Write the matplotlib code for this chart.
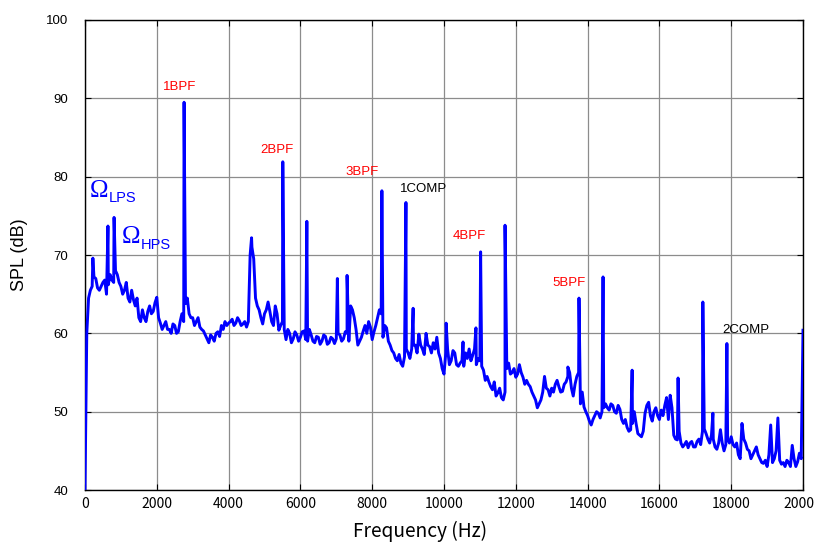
import numpy as np
import matplotlib
matplotlib.use("Agg")
import matplotlib.pyplot as plt

# spectrum baseline, read every 100 Hz from 0 to 20000 Hz
base_freq = np.arange(0, 20001, 100)
base_spl = [
    40.0, 64.5, 66.0, 67.0, 65.5, 66.5, 65.0, 67.5, 66.5, 67.5,
    66.0, 65.5, 64.5, 65.5, 63.5, 62.0, 63.0, 61.5, 63.5, 62.8,
    64.6, 61.3, 61.0, 60.5, 60.0, 61.0, 60.2, 62.5, 63.8, 62.5,
    62.0, 61.5, 60.8, 60.3, 59.3, 59.8, 59.0, 60.2, 61.0, 61.5,
    61.3, 61.8, 61.3, 61.6, 61.2, 60.8, 70.0, 69.5, 63.5, 62.0,
    62.5, 64.0, 61.5, 63.5, 60.4, 61.5, 59.2, 60.0, 59.3, 59.8,
    59.5, 60.3, 59.0, 59.8, 58.8, 59.5, 59.0, 59.6, 58.8, 59.3,
    59.3, 59.8, 59.3, 60.0, 63.5, 62.0, 58.5, 59.5, 61.0, 61.5,
    59.2, 61.0, 63.0, 59.5, 60.7, 58.5, 57.5, 56.5, 56.2, 57.0,
    57.5, 58.0, 58.5, 59.9, 58.0, 60.0, 58.3, 58.8, 59.5, 56.8,
    54.8, 58.0, 56.5, 57.5, 55.8, 56.5, 57.5, 58.0, 57.2, 56.0,
    56.5, 55.3, 54.5, 53.2, 53.8, 52.4, 51.8, 52.5, 56.2, 55.0,
    54.4, 56.0, 54.4, 54.0, 53.2, 52.0, 50.5, 51.5, 54.5, 52.8,
    53.0, 53.5, 53.2, 52.6, 53.8, 55.0, 52.0, 54.5, 51.0, 50.6,
    49.5, 48.3, 49.5, 49.8, 50.0, 51.0, 50.2, 50.8, 49.8, 50.3,
    48.5, 48.0, 47.7, 50.0, 47.2, 46.8, 49.8, 51.2, 48.8, 50.5,
    49.0, 49.5, 51.8, 52.1, 47.0, 46.4, 46.0, 45.8, 45.4, 46.2,
    45.5, 46.5, 47.5, 47.2, 46.0, 46.5, 45.2, 47.7, 45.0, 46.5,
    46.8, 45.5, 44.5, 48.5, 46.0, 45.0, 44.5, 45.5, 44.0, 43.4,
    43.0, 48.3, 44.0, 49.2, 43.3, 43.0, 43.5, 45.7, 43.0, 44.7,
    60.4,
]

# in-between readings (50, 150, ... 19950 Hz) for the fine ripple
half_freq = np.arange(50, 20000, 100)
half_spl = [
    60.0, 65.5, 67.2, 65.8, 66.0, 66.8, 66.2, 66.8, 68.0, 66.5,
    65.0, 66.5, 64.0, 64.3, 64.5, 61.5, 62.0, 62.8, 62.5, 63.9,
    62.0, 60.5, 61.5, 60.5, 61.2, 60.0, 61.5, 61.5, 64.5, 62.0,
    61.0, 62.0, 60.5, 59.8, 58.8, 59.5, 60.0, 59.6, 60.5, 61.0,
    61.5, 61.0, 62.0, 61.0, 61.5, 61.5, 71.0, 64.5, 63.0, 61.2,
    63.0, 62.8, 61.0, 62.5, 61.0, 60.5, 60.5, 58.8, 60.2, 59.0,
    60.2, 59.2, 60.5, 59.0, 59.6, 58.6, 59.8, 58.6, 59.5, 58.7,
    60.0, 59.0, 60.2, 59.0, 63.0, 60.5, 59.0, 60.3, 60.0, 60.8,
    60.2, 62.0, 62.5, 61.0, 59.0, 57.8, 56.8, 57.3, 55.8, 58.0,
    56.8, 58.5, 57.5, 58.5, 57.3, 58.5, 57.5, 58.0, 57.5, 55.5,
    57.5, 56.0, 57.8, 56.0, 56.2, 55.8, 56.8, 56.5, 58.0, 56.8,
    55.8, 54.0, 53.8, 52.8, 52.0, 53.0, 51.5, 55.5, 54.8, 55.5,
    54.8, 55.0, 53.5, 53.5, 52.5, 51.5, 51.0, 52.5, 53.0, 52.0,
    52.5, 54.0, 52.5, 53.5, 54.5, 53.0, 53.5, 55.0, 52.5, 50.0,
    48.8, 49.0, 50.0, 49.2, 50.5, 50.5, 51.0, 50.0, 50.8, 49.0,
    49.0, 47.5, 48.5, 48.5, 47.0, 47.5, 50.8, 49.5, 50.0, 49.5,
    50.2, 50.8, 49.0, 50.5, 46.5, 47.5, 45.5, 46.2, 46.0, 45.5,
    46.2, 45.8, 47.8, 46.5, 47.0, 45.5, 46.0, 46.0, 45.8, 46.0,
    45.8, 46.0, 44.0, 46.5, 45.2, 44.0, 45.0, 44.5, 43.5, 43.8,
    44.5, 43.5, 45.0, 43.8, 43.5, 43.8, 43.0, 44.0, 43.6, 44.0,
]

# narrow tonal peaks
peak_freq = [220, 640, 810, 2760, 4640, 5510, 6180, 7030, 7300, 8270,
             8940, 9140, 10060, 10530, 10890, 11020, 11700, 13450, 13760,
             14430, 15240, 16520, 17210, 17490, 17880]
peak_spl = [69.6, 73.7, 74.8, 89.5, 72.2, 81.9, 74.3, 67.0, 67.4, 78.2,
            76.7, 63.2, 61.3, 58.9, 60.7, 70.4, 73.8, 55.7, 64.5,
            67.2, 55.3, 54.3, 64.0, 49.8, 58.7]

# peak labels
label_text = ["1BPF", "2BPF", "3BPF", "1COMP", "4BPF", "5BPF", "2COMP"]
label_freq = [2650, 5350, 7720, 9420, 10700, 13480, 18420]
label_spl = [91.4, 83.4, 80.6, 78.4, 72.4, 66.4, 60.4]
label_color = ["red", "red", "red", "black", "red", "red", "black"]

freq = np.concatenate([base_freq, half_freq, peak_freq])
spl = np.concatenate([base_spl, half_spl, peak_spl])
order = np.argsort(freq, kind="stable")
freq, spl = freq[order], spl[order]

fig = plt.figure(figsize=(8.14, 5.42), dpi=100)
ax = fig.add_axes([0.1044, 0.0959, 0.8821, 0.8672])

ax.plot(freq, spl, color="#0000ff", lw=2.1, zorder=3)

ax.set_xlim(0, 20000)
ax.set_ylim(40, 100)
ax.set_xticks(np.arange(0, 20001, 2000))
ax.set_yticks(np.arange(40, 101, 10))
ax.grid(True, color="#8c8c8c", lw=0.9)
ax.tick_params(direction="in", top=True, right=True, length=4, width=0.8)
for lab in ax.get_xticklabels():
    lab.set_family("Noto Sans CJK JP")
    lab.set_fontsize(10)
for lab in ax.get_yticklabels():
    lab.set_family("Liberation Sans")
    lab.set_fontsize(9.5)
ax.tick_params(axis="x", pad=5)
ax.tick_params(axis="y", pad=12)
for s in ax.spines.values():
    s.set_linewidth(1.0)

ax.set_xlabel("Frequency (Hz)", family="Noto Sans CJK JP", fontsize=13.8)
ax.xaxis.set_label_coords(0.4666, -0.066)
ax.set_ylabel("SPL (dB)", family="Liberation Sans", fontsize=13)
ax.yaxis.set_label_coords(-0.079, 0.5)

for t, f, s, c in zip(label_text, label_freq, label_spl, label_color):
    ax.text(f, s, t, color=c, ha="center", va="center",
            family="Liberation Sans", fontsize=9.5)

# Omega_LPS / Omega_HPS
ax.text(139, 77.4, "Ω", color="#0000ff", family="Liberation Serif",
        fontsize=18, ha="left", va="baseline")
ax.text(650, 76.8, "LPS", color="#0000ff", family="Liberation Sans",
        fontsize=10.5, ha="left", va="baseline")
ax.text(1031, 71.5, "Ω", color="#0000ff", family="Liberation Serif",
        fontsize=18, ha="left", va="baseline")
ax.text(1560, 70.8, "HPS", color="#0000ff", family="Liberation Sans",
        fontsize=10.5, ha="left", va="baseline")

fig.savefig("out.png", dpi=100)
